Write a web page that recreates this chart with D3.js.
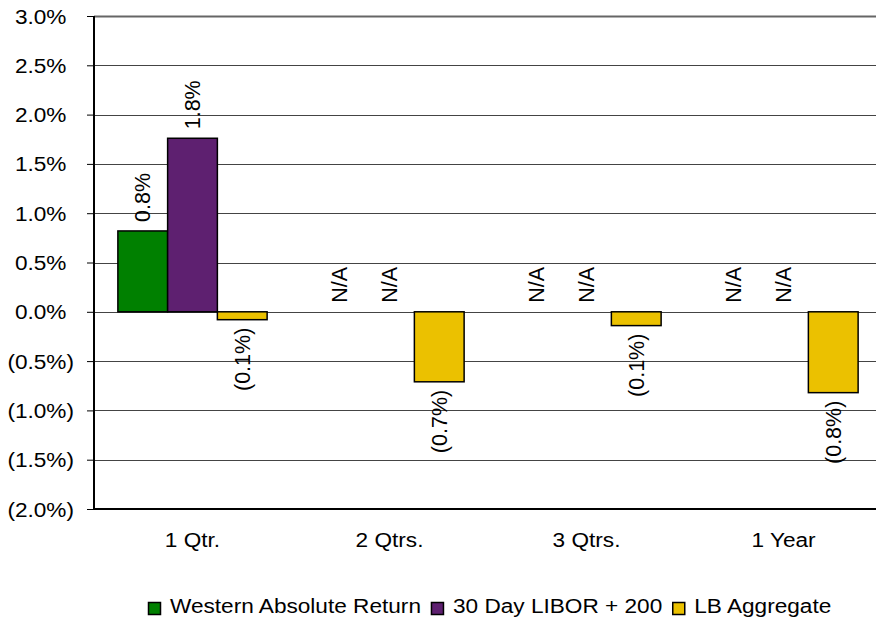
<!DOCTYPE html>
<html>
<head>
<meta charset="utf-8">
<script src="https://cdn.jsdelivr.net/npm/d3@7"></script>
<style>
    body { margin: 0; background: #fff; }
    text { font-family: Arial, "Liberation Sans", sans-serif; fill: #000; }
</style>
</head>
<body>
<script>
// chart data
var categories = ["1 Qtr.", "2 Qtrs.", "3 Qtrs.", "1 Year"];
var seriesNames = ["Western Absolute Return", "30 Day LIBOR + 200", "LB Aggregate"];
var seriesColors = ["#008000", "#5e2070", "#ebc100"];
var westernValues = [0.82, null, null, null];
var liborValues = [1.76, null, null, null];
var lbAggValues = [-0.08, -0.71, -0.14, -0.82];
var yTicks = [3.0, 2.5, 2.0, 1.5, 1.0, 0.5, 0.0, -0.5, -1.0, -1.5, -2.0];

var seriesValues = [westernValues, liborValues, lbAggValues];

var width = 876, height = 620;
var margin = { top: 16, right: -6, bottom: 111, left: 94 };
var stretch = 1.16;   // horizontal text in the picture is a bit wide

var svg = d3.select("body").append("svg")
    .attr("width", width)
    .attr("height", height);

svg.append("rect").attr("width", width).attr("height", height).attr("fill", "#fff");

// Set the ranges
var x0 = d3.scaleBand()
    .domain(categories)
    .range([margin.left, width - margin.right]);

var x1 = d3.scaleBand()
    .domain(seriesNames)
    .range([0, x0.bandwidth()])
    .paddingOuter(0.48);

var y = d3.scaleLinear()
    .domain([-2, 3])
    .range([height - margin.bottom, margin.top]);

function fmt(v) {
    var s = Math.abs(v).toFixed(1) + "%";
    return v < 0 ? "(" + s + ")" : s;
}

// gridlines
svg.append("g")
    .selectAll("line")
    .data(yTicks)
    .enter().append("line")
    .attr("x1", margin.left)
    .attr("x2", width)
    .attr("y1", function (d) { return Math.round(y(d)) + 0.5; })
    .attr("y2", function (d) { return Math.round(y(d)) + 0.5; })
    .attr("stroke", function (d) { return d === 3 ? "#666" : "#444"; })
    .attr("stroke-width", function (d) { return d === 3 ? 2 : 1; });

// y axis
var yAxis = d3.axisLeft(y)
    .tickValues(yTicks)
    .tickSize(7)
    .tickFormat(fmt);

var gy = svg.append("g")
    .attr("transform", "translate(" + margin.left + ",0)")
    .call(yAxis);

gy.select(".domain").remove();
gy.selectAll(".tick line").attr("stroke", "#000").attr("stroke-width", 1);
gy.selectAll(".tick text").remove();

gy.selectAll(".tick")
    .append("text")
    .attr("transform", "translate(-20,0) scale(" + stretch + ",1)")
    .attr("text-anchor", "end")
    .attr("dy", "0.36em")
    .attr("dx", function (d) { return d >= 0 ? "-0.333em" : 0; })
    .style("font-size", "19.5px")
    .text(fmt);

// bars
var groups = svg.append("g")
    .selectAll("g")
    .data(categories)
    .enter().append("g")
    .attr("transform", function (d) { return "translate(" + x0(d) + ",0)"; });

var cells = groups.selectAll("g")
    .data(function (c, i) {
        return seriesNames.map(function (s, j) {
            return { series: s, color: seriesColors[j], value: seriesValues[j][i] };
        });
    })
    .enter().append("g");

cells.filter(function (d) { return d.value !== null; })
    .append("rect")
    .attr("x", function (d) { return x1(d.series); })
    .attr("width", x1.bandwidth())
    .attr("y", function (d) { return y(Math.max(0, d.value)); })
    .attr("height", function (d) { return Math.abs(y(d.value) - y(0)); })
    .attr("fill", function (d) { return d.color; })
    .attr("stroke", "#000")
    .attr("stroke-width", 1.5);

// value labels
cells.append("text")
    .attr("transform", function (d) {
        var cx = x1(d.series) + x1.bandwidth() / 2;
        var ty = d.value === null || d.value >= 0
            ? y(Math.max(0, d.value || 0)) - 9
            : y(d.value) + 8;
        return "translate(" + cx + "," + ty + ") rotate(-90)";
    })
    .attr("dy", "0.35em")
    .attr("text-anchor", function (d) { return d.value !== null && d.value < 0 ? "end" : "start"; })
    .style("font-size", "21.5px")
    .text(function (d) { return d.value === null ? "N/A" : fmt(d.value); });

// axis lines
svg.append("line")
    .attr("x1", margin.left).attr("x2", margin.left)
    .attr("y1", margin.top).attr("y2", y(-2) + 1)
    .attr("stroke", "#000").attr("stroke-width", 2);

svg.append("line")
    .attr("x1", margin.left - 1).attr("x2", width)
    .attr("y1", y(-2)).attr("y2", y(-2))
    .attr("stroke", "#000").attr("stroke-width", 2);

// category labels
svg.append("g")
    .selectAll("text")
    .data(categories)
    .enter().append("text")
    .attr("transform", function (d) {
        return "translate(" + (x0(d) + x0.bandwidth() / 2) + ",547) scale(" + stretch + ",1)";
    })
    .attr("text-anchor", "middle")
    .style("font-size", "19.5px")
    .text(function (d) { return d; });

// legend
var legend = svg.append("g");
var lx = 148;
seriesNames.forEach(function (name, i) {
    legend.append("rect")
        .attr("x", lx + 0.5)
        .attr("y", 602.5)
        .attr("width", 12)
        .attr("height", 12)
        .attr("fill", seriesColors[i])
        .attr("stroke", "#000")
        .attr("stroke-width", 1.5);
    var t = legend.append("text")
        .attr("transform", "translate(" + (lx + 22) + ",613) scale(" + stretch + ",1)")
        .style("font-size", "19.5px")
        .text(name);
    var w = t.node().getComputedTextLength() * stretch;
    lx = lx + 22 + w + 10;
});
</script>
</body>
</html>
